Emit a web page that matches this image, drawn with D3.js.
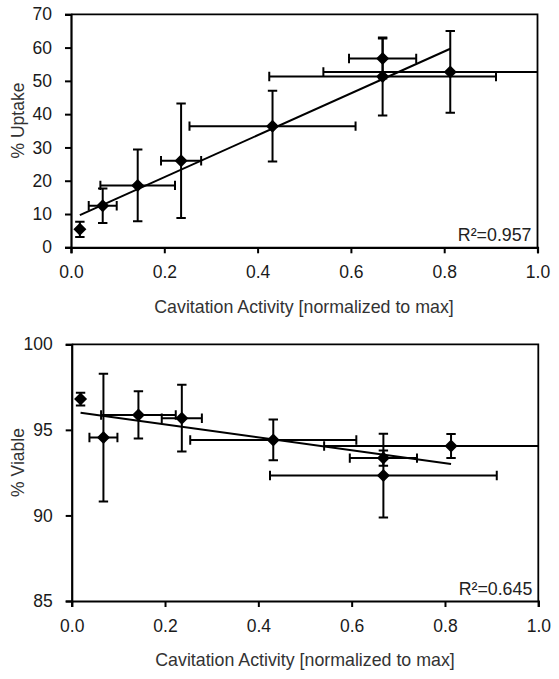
<!DOCTYPE html>
<html>
<head>
<meta charset="utf-8">
<script src="https://cdn.jsdelivr.net/npm/d3@7"></script>
<style>
  html, body { margin: 0; padding: 0; background: #fff; }
  svg { display: block; font-family: "Liberation Sans", Arial, sans-serif; }
</style>
</head>
<body>
<svg id="chart" width="559" height="679"></svg>
<script>
// ---- data ----
const cavitation    = [0.019, 0.068, 0.143, 0.236, 0.432, 0.668, 0.668, 0.813];
const cavitationErr = [0, 0.030, 0.080, 0.043, 0.178, 0.072, 0.243, 0.272];
const uptake        = [5.4, 12.5, 18.6, 26.0, 36.4, 56.7, 51.3, 52.7];
const uptakeErr     = [2.3, 5.2, 10.8, 17.2, 10.6, 6.0, 11.7, 12.3];
const viable        = [96.8, 94.55, 95.87, 95.68, 94.41, 93.35, 92.33, 94.06];
const viableErr     = [0.37, 3.73, 1.38, 1.95, 1.19, 0.44, 2.45, 0.70];
const xTicks        = [0, 0.2, 0.4, 0.6, 0.8, 1.0];
const uptakeTicks   = [0, 10, 20, 30, 40, 50, 60, 70];
const viableTicks   = [85, 90, 95, 100];
const xTitle        = "Cavitation Activity [normalized to max]";
const uptakeTitle   = "% Uptake";
const viableTitle   = "% Viable";
const uptakeR2      = "R\u00B2=0.957";
const viableR2      = "R\u00B2=0.645";

const svg = d3.select("#chart");

function linreg(xs, ys) {
  const mx = d3.mean(xs), my = d3.mean(ys);
  let sxy = 0, sxx = 0;
  xs.forEach((x, i) => { sxy += (x - mx) * (ys[i] - my); sxx += (x - mx) * (x - mx); });
  const m = sxy / sxx;
  return { m, b: my - m * mx };
}

function panel(cfg) {
  const x = d3.scaleLinear().domain([0, 1]).range([cfg.left, cfg.right]);
  const y = d3.scaleLinear().domain(cfg.yDomain).range([cfg.bottom, cfg.top]);
  const g = svg.append("g");
  const clipId = "clip" + cfg.id;
  svg.append("clipPath").attr("id", clipId).append("rect")
    .attr("x", cfg.left).attr("y", cfg.top)
    .attr("width", cfg.right - cfg.left).attr("height", cfg.bottom - cfg.top);

  // frame (top & right)
  g.append("path")
    .attr("d", `M${cfg.left},${cfg.top}H${cfg.right}V${cfg.bottom}`)
    .attr("fill", "none").attr("stroke", "#000").attr("stroke-width", 1.8);

  // axes
  const yAxis = d3.axisLeft(y).tickValues(cfg.yTicks).tickSizeOuter(0).tickSize(6).tickPadding(13)
    .tickFormat(d3.format("d"));
  const xAxis = d3.axisBottom(x).tickValues(xTicks).tickSizeOuter(0).tickSize(6).tickPadding(19)
    .tickFormat(d3.format(".1f"));
  const ya = g.append("g").attr("transform", `translate(${cfg.left},0)`).call(yAxis);
  const xa = g.append("g").attr("transform", `translate(0,${cfg.bottom})`).call(xAxis);
  [ya, xa].forEach(a => {
    a.select(".domain").attr("stroke", "#000").attr("stroke-width", 2.2);
    a.selectAll(".tick line").attr("stroke", "#000").attr("stroke-width", 2);
    a.selectAll(".tick text").attr("fill", "#1a1a1a").attr("font-size", 17.5)
      .attr("font-family", '"Liberation Sans", Arial, sans-serif');
  });
  xa.selectAll(".tick text").attr("dy", "0.35em");

  // titles
  g.append("text").attr("x", cfg.xTitleX).attr("y", cfg.xTitleY)
    .attr("text-anchor", "middle").attr("font-size", 17.8).attr("fill", "#333")
    .text(xTitle);
  g.append("text")
    .attr("transform", `translate(${cfg.yTitleX},${cfg.yTitleY}) rotate(-90)`)
    .attr("text-anchor", "middle").attr("font-size", 17.5).attr("fill", "#333")
    .text(cfg.yTitle);
  g.append("text").attr("x", cfg.right - 6).attr("y", cfg.r2Y)
    .attr("text-anchor", "end").attr("font-size", 17.8).attr("fill", "#222")
    .text(cfg.r2);

  const plot = g.append("g").attr("clip-path", `url(#${clipId})`);
  const ys = cfg.values, ye = cfg.errs;
  const cap = 4.7;
  const eb = plot.append("g").attr("stroke", "#000").attr("stroke-width", 2).attr("fill", "none");
  cavitation.forEach((cx, i) => {
    const px = x(cx), py = y(ys[i]);
    const y1 = y(ys[i] + ye[i]), y2 = y(ys[i] - ye[i]);
    eb.append("path").attr("d",
      `M${px},${y1}V${y2}M${px - cap},${y1}H${px + cap}M${px - cap},${y2}H${px + cap}`);
    if (cavitationErr[i] > 0) {
      const x1 = x(cx - cavitationErr[i]), x2 = x(cx + cavitationErr[i]);
      eb.append("path").attr("d",
        `M${x1},${py}H${x2}M${x1},${py - cap}V${py + cap}M${x2},${py - cap}V${py + cap}`);
    }
  });

  // trendline
  const r = linreg(cavitation, ys);
  const xmin = d3.min(cavitation), xmax = d3.max(cavitation);
  plot.append("line")
    .attr("x1", x(xmin)).attr("y1", y(r.m * xmin + r.b))
    .attr("x2", x(xmax)).attr("y2", y(r.m * xmax + r.b))
    .attr("stroke", "#000").attr("stroke-width", 2);

  // markers
  const s = 6.5;
  plot.append("g").selectAll("path").data(cavitation).join("path")
    .attr("d", (d, i) => {
      const px = x(d), py = y(ys[i]);
      return `M${px},${py - s}L${px + s},${py}L${px},${py + s}L${px - s},${py}Z`;
    })
    .attr("fill", "#000");
}

panel({
  id: "top", left: 71, right: 537.5, top: 14.3, bottom: 247.3,
  yDomain: [0, 70], yTicks: uptakeTicks, values: uptake, errs: uptakeErr,
  yTitle: uptakeTitle, r2: uptakeR2, r2Y: 240.7,
  xTitleX: 304, xTitleY: 313.3, yTitleX: 24, yTitleY: 120.5
});
panel({
  id: "bot", left: 71.7, right: 538.3, top: 344.3, bottom: 601,
  yDomain: [85, 100], yTicks: viableTicks, values: viable, errs: viableErr,
  yTitle: viableTitle, r2: viableR2, r2Y: 595,
  xTitleX: 305, xTitleY: 666, yTitleX: 24, yTitleY: 462.5
});
</script>
</body>
</html>
